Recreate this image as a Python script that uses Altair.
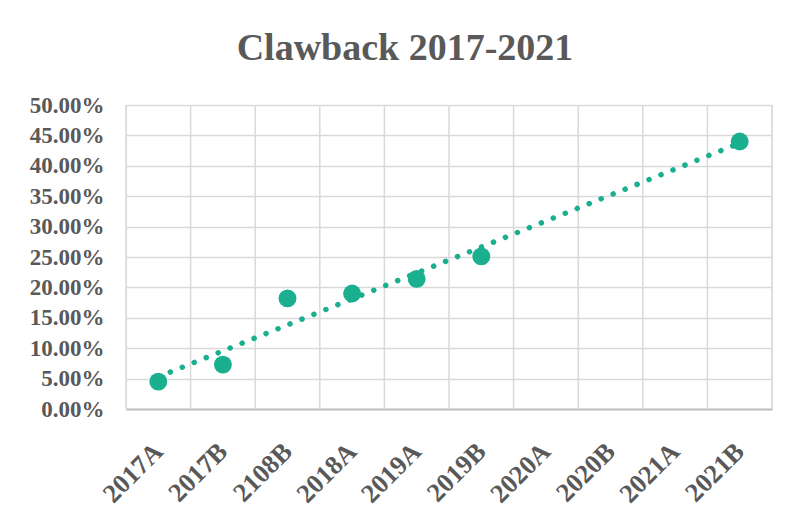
import altair as alt
import pandas as pd

categories = ["2017A", "2017B", "2108B", "2018A", "2019A", "2019B",
              "2020A", "2020B", "2021A", "2021B"]
values = [0.045, 0.073, 0.182, 0.190, 0.214, 0.251, None, None, None, 0.440]
y_ticks = [0.0, 0.05, 0.10, 0.15, 0.20, 0.25, 0.30, 0.35, 0.40, 0.45, 0.50]

idx = list(range(1, len(categories) + 1))
df = pd.DataFrame({"idx": idx, "cat": categories, "val": values})
pts = df.dropna()
bounds = pd.DataFrame({"b": [i + 0.5 for i in range(0, len(categories) + 1)]})

TEAL = "#1aaf8e"
FONT = "Liberation Serif"
TXT = "#595959"
GRID = "#d9d9d9"

label_arr = "[" + ",".join("'%s'" % c for c in categories) + "]"

xscale = alt.Scale(domain=[0.5, len(categories) + 0.5], nice=False, zero=False)
yscale = alt.Scale(domain=[0, 0.5], nice=False)

xaxis = alt.Axis(values=idx, labelExpr=label_arr + "[datum.value-1]",
                 grid=False, ticks=False, domain=True, domainColor="#bfbfbf",
                 domainWidth=2, title=None, labelAngle=-45, labelAlign="right",
                 labelBaseline="middle", labelFont=FONT, labelFontSize=26.5,
                 labelFontWeight="bold", labelColor=TXT, labelPadding=38,
                 labelOverlap=False, labelFlush=False)
yaxis = alt.Axis(values=y_ticks, format=".2%", title=None, domain=False, ticks=False,
                 gridColor=GRID, gridWidth=1.5, labelFont=FONT, labelFontSize=23,
                 labelFontWeight="bold", labelColor=TXT, labelPadding=22,
                 labelOverlap=False, labelFlush=False)

vgrid = alt.Chart(bounds).mark_rule(color=GRID, strokeWidth=1.5).encode(
    x=alt.X("b:Q", scale=xscale, axis=xaxis),
)

trend = alt.Chart(pts).transform_regression("idx", "val", extent=[1, len(categories)]).mark_line(
    color=TEAL, strokeWidth=5.5, strokeDash=[0.1, 12.8], strokeCap="round"
).encode(
    x=alt.X("idx:Q", scale=xscale, axis=xaxis),
    y=alt.Y("val:Q", scale=yscale, axis=yaxis),
)

points = alt.Chart(pts).mark_circle(color=TEAL, size=320, opacity=1).encode(
    x=alt.X("idx:Q", scale=xscale, axis=xaxis),
    y=alt.Y("val:Q", scale=yscale, axis=yaxis),
)

chart = alt.layer(vgrid, trend, points).properties(
    width=646, height=304,
    padding={"left": 118, "top": 97, "right": 10, "bottom": 105},
    autosize=alt.AutoSizeParams(type="none"),
    title=alt.TitleParams("Clawback 2017-2021", font=FONT, fontSize=38, fontWeight="bold",
                          color=TXT, anchor="middle", dx=-44, offset=26),
).configure_view(stroke=None).configure(background="white")

chart.save("out.html", embed_options={"renderer": "svg", "actions": False})
